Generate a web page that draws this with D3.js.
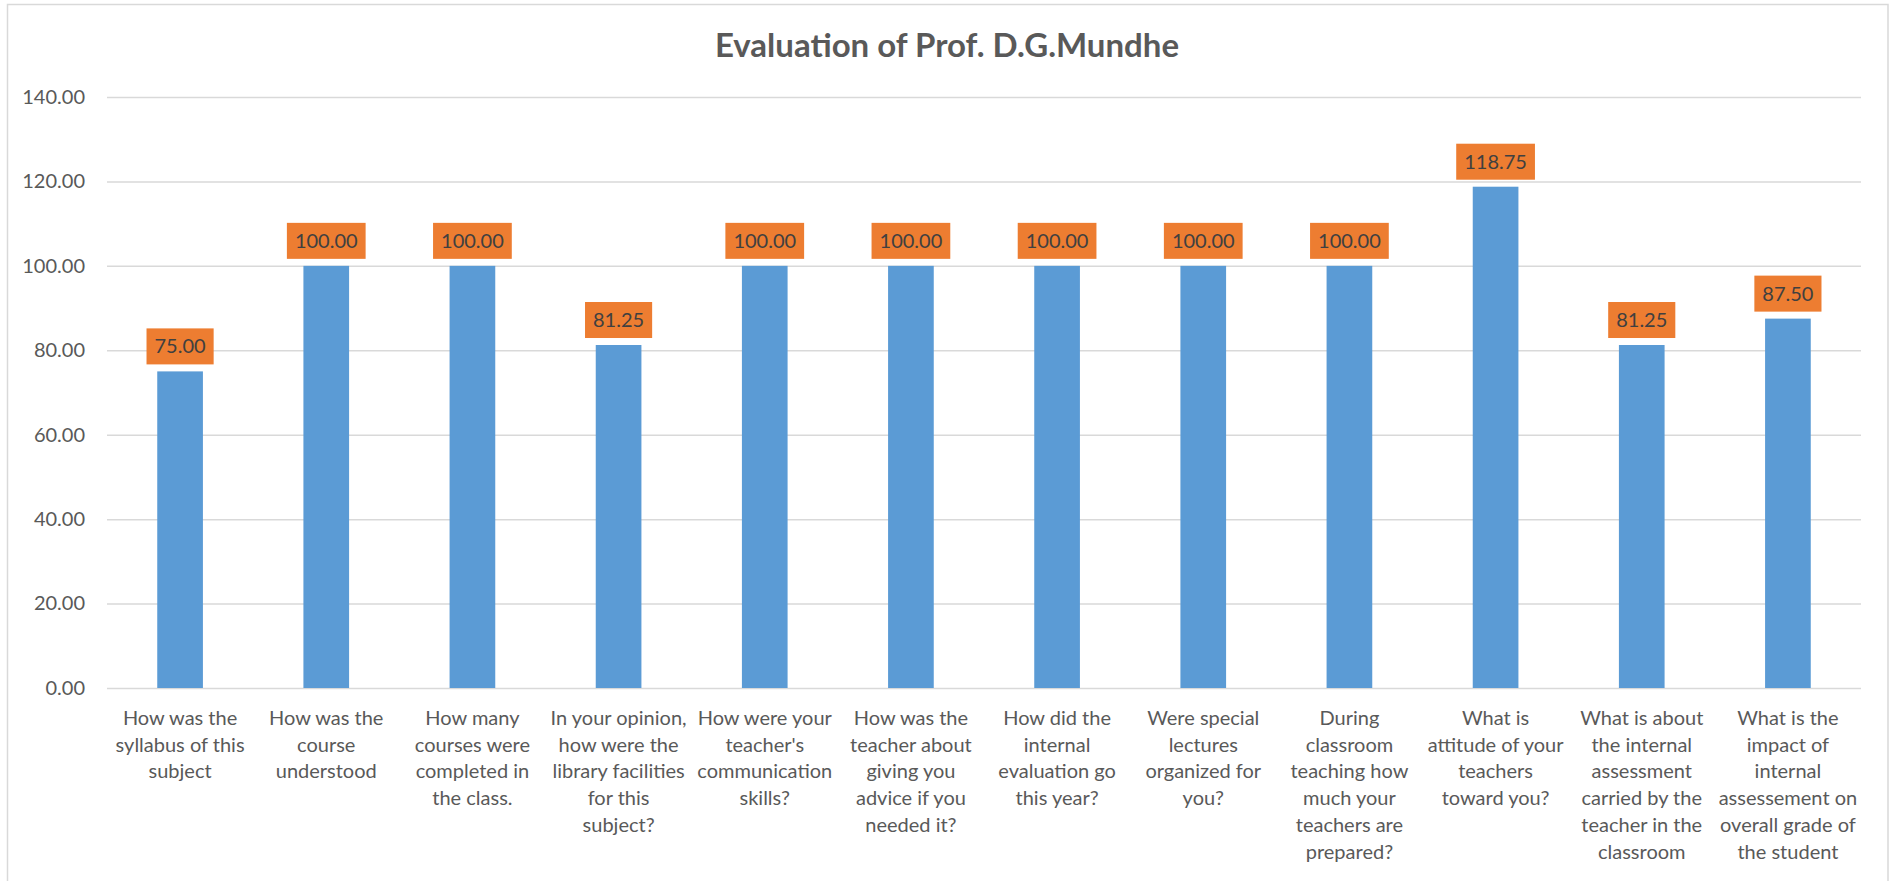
<!DOCTYPE html>
<html>
<head>
<meta charset="utf-8">
<script src="https://cdn.jsdelivr.net/npm/d3@7"></script>
<style>
  html, body { margin: 0; padding: 0; background: #ffffff; }
  svg { display: block; }
</style>
</head>
<body>
<svg id="chart" width="1897" height="881"></svg>
<script>
const title = "Evaluation of Prof. D.G.Mundhe";
const categories = [
  "How was the\nsyllabus of this\nsubject",
  "How was the\ncourse\nunderstood",
  "How many\ncourses were\ncompleted in\nthe class.",
  "In your opinion,\nhow were the\nlibrary facilities\nfor this\nsubject?",
  "How were your\nteacher's\ncommunication\nskills?",
  "How was the\nteacher about\ngiving you\nadvice if you\nneeded it?",
  "How did the\ninternal\nevaluation go\nthis year?",
  "Were special\nlectures\norganized for\nyou?",
  "During\nclassroom\nteaching how\nmuch your\nteachers are\nprepared?",
  "What is\nattitude of your\nteachers\ntoward you?",
  "What is about\nthe internal\nassessment\ncarried by the\nteacher in the\nclassroom",
  "What is the\nimpact of\ninternal\nassessement on\noverall grade of\nthe student"
];
const values = [75.00, 100.00, 100.00, 81.25, 100.00, 100.00, 100.00, 100.00, 100.00, 118.75, 81.25, 87.50];
const yTicks = [0, 20, 40, 60, 80, 100, 120, 140];

const svg = d3.select("#chart");
const FONT = "Lato, 'Open Sans', sans-serif";
const plot = { left: 107, right: 1861, top: 97, bottom: 688 };

// chart area border
svg.append("rect")
  .attr("x", 7.5).attr("y", 4.5)
  .attr("width", 1888 - 7.5).attr("height", 900)
  .attr("fill", "#ffffff").attr("stroke", "#d9d9d9").attr("stroke-width", 1.5);

const x = d3.scaleBand().domain(categories).range([plot.left, plot.right])
  .paddingInner(0.6875).paddingOuter(0.34375);
const y = d3.scaleLinear().domain([0, 140]).range([plot.bottom, plot.top]);

// title
svg.append("text")
  .attr("x", 947).attr("y", 57)
  .attr("text-anchor", "middle")
  .attr("font-family", FONT).attr("font-weight", "bold").attr("font-size", 33)
  .attr("fill", "#595959")
  .text(title);

// y axis with gridlines
const yAxis = d3.axisLeft(y).tickValues(yTicks).tickFormat(d3.format(".2f"))
  .tickSize(-(plot.right - plot.left)).tickPadding(22);
const gy = svg.append("g").attr("transform", `translate(${plot.left},0)`).call(yAxis);
gy.select(".domain").remove();
gy.selectAll(".tick line").attr("stroke", "#d9d9d9").attr("stroke-width", 1.5);
gy.selectAll(".tick text").attr("font-family", FONT).attr("font-size", 20).attr("fill", "#595959");

// bars
svg.append("g").selectAll("rect").data(values).join("rect")
  .attr("x", (d, i) => x(categories[i]))
  .attr("y", d => y(d))
  .attr("width", x.bandwidth())
  .attr("height", d => y(0) - y(d))
  .attr("fill", "#5b9bd5");

// category labels
const xAxis = d3.axisBottom(x).tickSize(0).tickFormat("");
const gx = svg.append("g").attr("transform", `translate(0,${plot.bottom})`).call(xAxis);
gx.select(".domain").remove();
gx.selectAll(".tick").each(function(d) {
  const t = d3.select(this).append("text")
    .attr("text-anchor", "middle")
    .attr("font-family", FONT).attr("font-size", 20).attr("fill", "#595959");
  d.split("\n").forEach((line, k) => {
    t.append("tspan").attr("x", 0).attr("y", 37 + k * 26.7).text(line);
  });
});

// data labels
const lab = svg.append("g").selectAll("g").data(values).join("g")
  .attr("transform", (d, i) => `translate(${x(categories[i]) + x.bandwidth() / 2},${y(d) - 7})`);
lab.each(function(d) {
  const g = d3.select(this);
  const r = g.append("rect").attr("fill", "#ed7d31");
  const t = g.append("text")
    .attr("text-anchor", "middle").attr("y", -11)
    .attr("font-family", FONT).attr("font-size", 20).attr("fill", "#404040")
    .text(d3.format(".2f")(d));
  const w = t.node().getComputedTextLength() + 16;
  r.attr("x", -w / 2).attr("y", -36).attr("width", w).attr("height", 36);
});
</script>
</body>
</html>
